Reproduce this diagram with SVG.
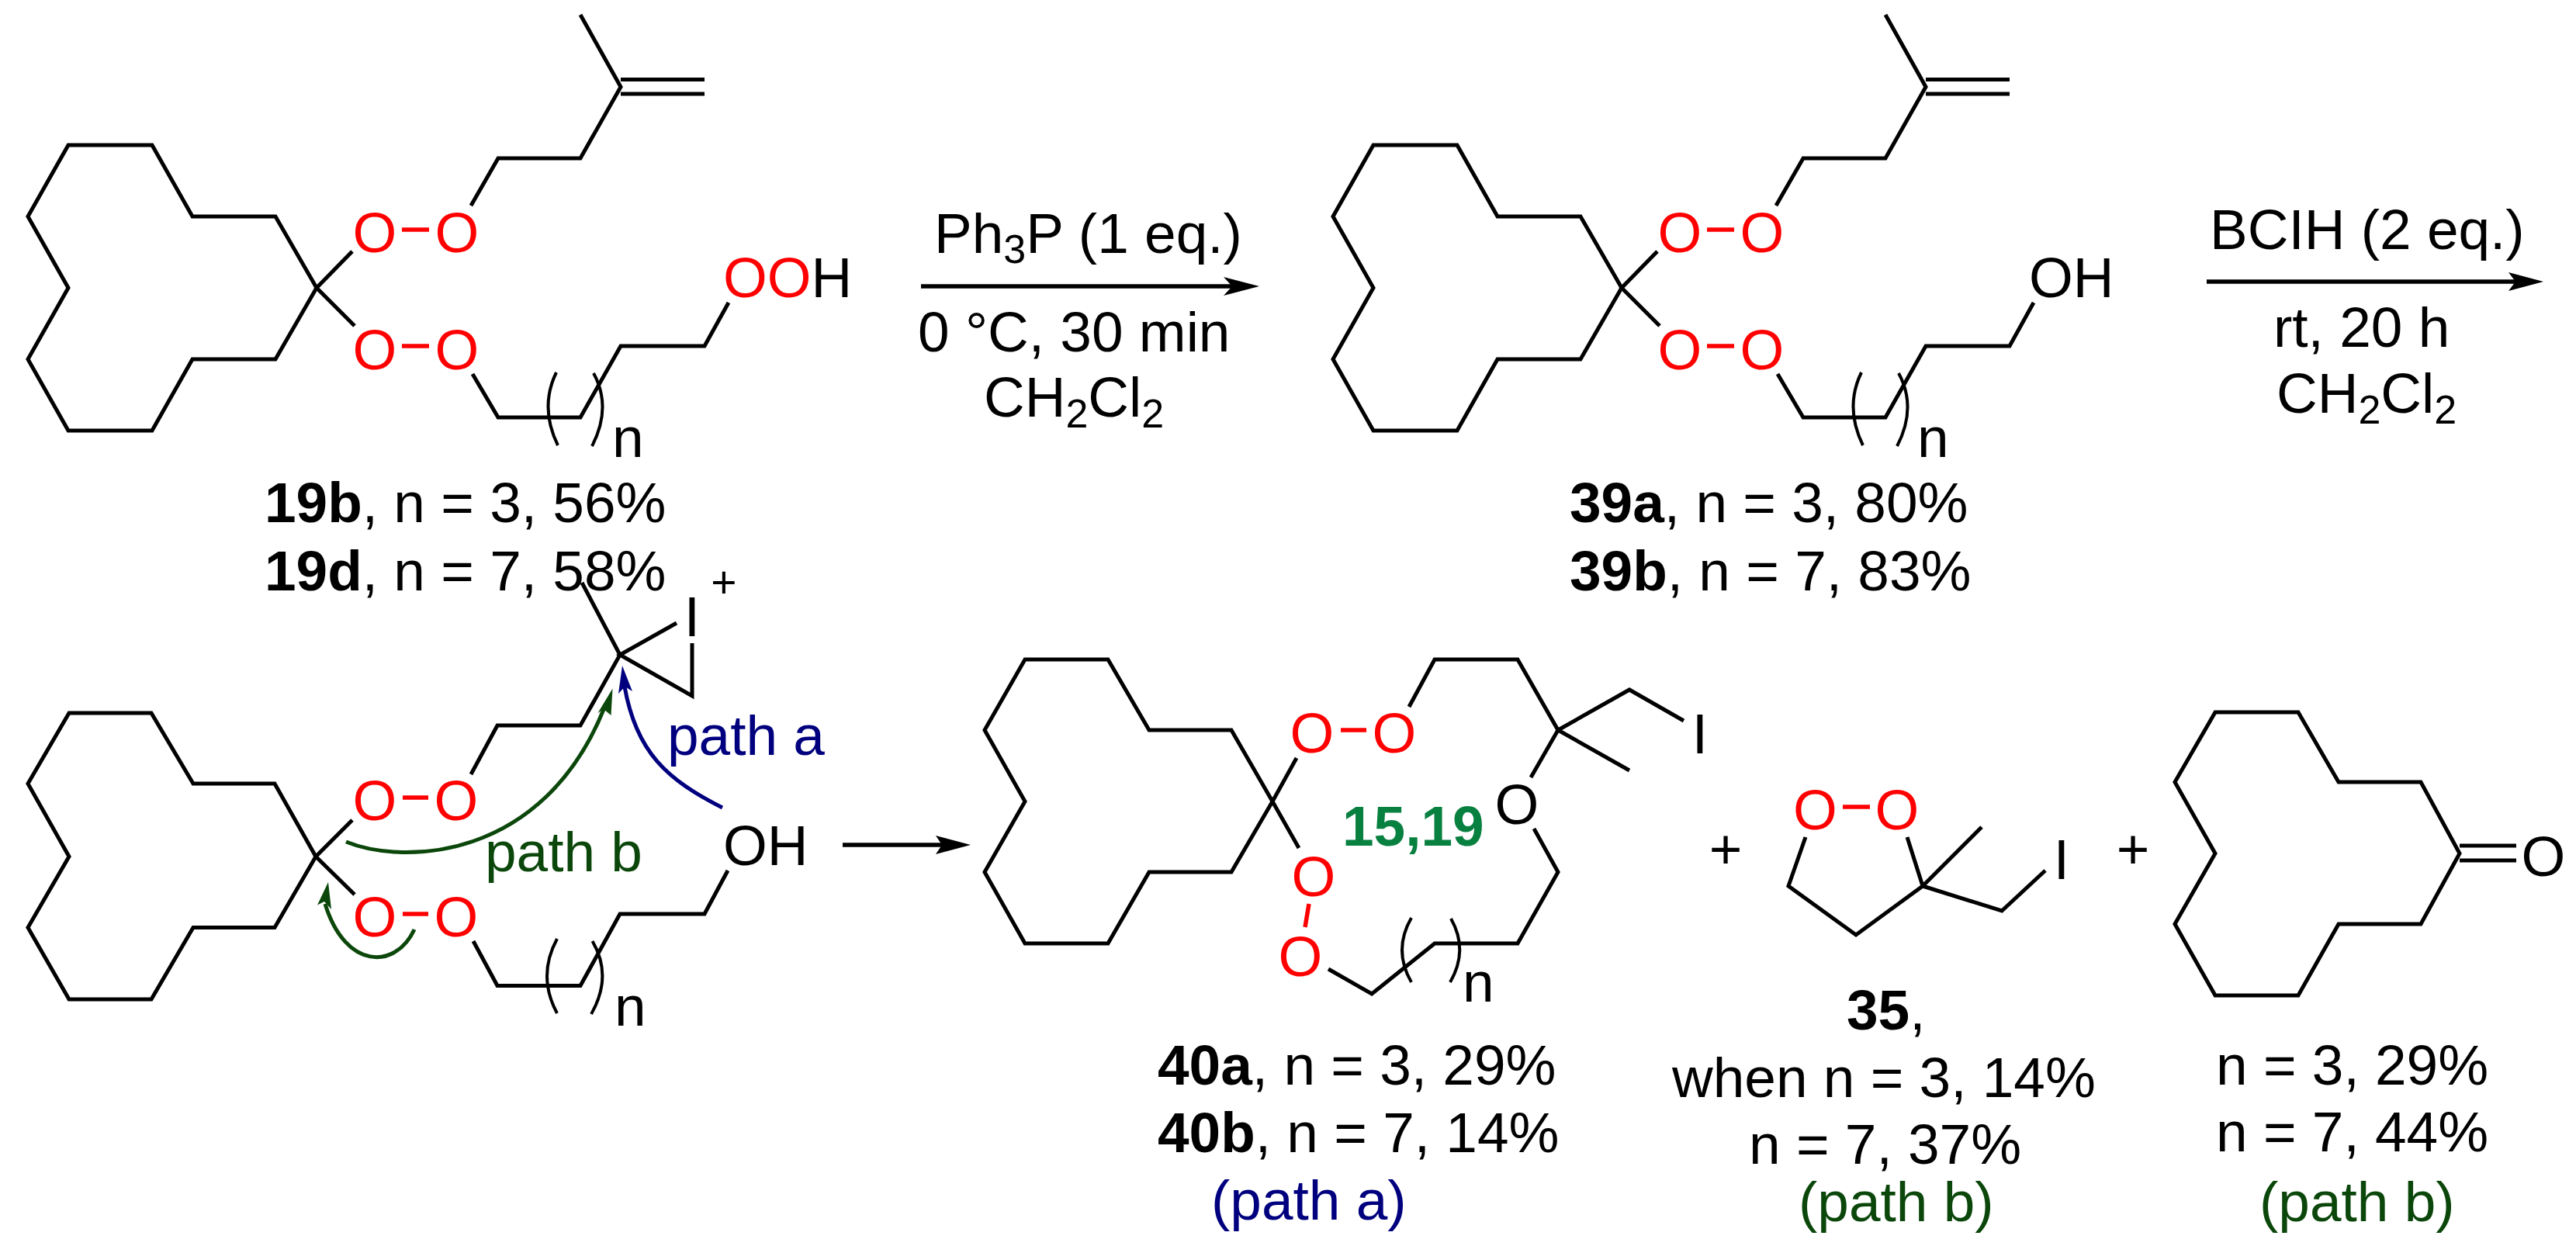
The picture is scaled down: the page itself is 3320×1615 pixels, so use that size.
<svg xmlns="http://www.w3.org/2000/svg" width="3320" height="1615" viewBox="0 0 3320 1615">
<style>
text{font-family:"Liberation Sans",Arial,sans-serif;font-size:73px;fill:#000}
.b{font-weight:bold}
.r{fill:#f00}
.m{text-anchor:middle}
.s{font-size:52px}
.navy{fill:#00007f}
.dg{fill:#0b470b}
.g{fill:#088040;font-weight:bold}
.bond{fill:none;stroke:#000;stroke-width:5;stroke-linejoin:miter}
.oo{fill:none;stroke:#f00;stroke-width:5.5}
.br{fill:none;stroke:#000;stroke-width:4}
.arr{fill:none;stroke:#000;stroke-width:5.5}
.cn{fill:none;stroke-width:5}
</style>
<defs>
<path id="ring" class="bond" d="M88 187H196L248 279H355L408 371L355 463H248L196 555H88L36 463L88 371L36 279Z"/>
</defs>
<g id="mol-19">
<use href="#ring"/>
<path class="bond" d="M454 324L408 371L457 420M607 265L642 204H748L800 112L748 19M800 102.500H908M800 121H908M609 482L642 538H748L800 446H908L939 390"/>
<path class="br" d="M717 480Q695 525 719 574M765 481Q789 525 763 575"/>
<path class="oo" d="M518 296H553M518 446H553"/>
<text class="r m" x="483" y="325">O</text><text class="r m" x="589" y="325">O</text>
<text class="r m" x="483" y="476">O</text><text class="r m" x="589" y="476">O</text>
<text x="932" y="383"><tspan class="r">OO</tspan>H</text>
<text x="789" y="589">n</text>
<text x="341" y="673"><tspan class="b">19b</tspan>, n = 3, 56%</text>
<text x="341" y="761"><tspan class="b">19d</tspan>, n = 7, 58%</text>
</g>
<g id="reagents-1">
<text x="1204" y="326">Ph<tspan class="s" dy="13">3</tspan><tspan dy="-13">P (1 eq.)</tspan></text>
<text x="1183" y="453">0 °C, 30 min</text>
<text x="1268" y="537">CH<tspan class="s" dy="14">2</tspan><tspan dy="-14">Cl</tspan><tspan class="s" dy="14">2</tspan></text>
</g>
<g id="mol-39">
<use href="#ring" x="1682"/>
<path class="bond" d="M2136 324L2090 371L2139 420M2289 265L2324 204H2430L2482 112L2430 19M2482 102.500H2590M2482 121H2590M2291 482L2324 538H2430L2482 446H2590L2621 390"/>
<path class="br" d="M2399 480Q2377 525 2401 574M2447 481Q2471 525 2445 575"/>
<path class="oo" d="M2200 296H2235M2200 446H2235"/>
<text class="r m" x="2165" y="325">O</text><text class="r m" x="2271" y="325">O</text>
<text class="r m" x="2165" y="476">O</text><text class="r m" x="2271" y="476">O</text>
<text x="2615" y="383">OH</text>
<text x="2471" y="589">n</text>
<text x="2023" y="673"><tspan class="b">39a</tspan>, n = 3, 80%</text>
<text x="2023" y="761"><tspan class="b">39b</tspan>, n = 7, 83%</text>
</g>
<g id="reagents-2">
<text x="2848" y="321">BCIH (2 eq.)</text>
<text x="2930" y="447">rt, 20 h</text>
<text x="2934" y="532">CH<tspan class="s" dy="14">2</tspan><tspan dy="-14">Cl</tspan><tspan class="s" dy="14">2</tspan></text>
</g>
<g id="intermediate">
<path class="bond" d="M89 919H195L249 1010H354L407 1104L354 1195.500H249L195 1288H89L36 1195.500L89 1104L36 1010Z"/>
<path class="bond" d="M454 1057L407 1104L457 1153M607 998L641 935H748L799 844L750 751M872 803L799 844L892 897V829M610 1213L641 1270.500H748L799 1178H908L938 1122"/>
<path class="br" d="M718 1210Q692 1258 718 1306M763.500 1213Q790 1258 762 1307"/>
<path class="oo" d="M519 1028H552M519 1178H552"/>
<text class="r m" x="483" y="1057">O</text><text class="r m" x="588" y="1057">O</text>
<text class="r m" x="483" y="1207">O</text><text class="r m" x="588" y="1207">O</text>
<text class="m" x="892" y="820">I</text>
<text class="m" x="933" y="770" style="font-size:57px">+</text>
<text x="932" y="1115">OH</text>
<text x="792" y="1322">n</text>
<text class="navy" x="860" y="973">path a</text>
<text class="dg" x="625" y="1123">path b</text>
</g>
<g id="connectors">
<path class="arr" d="M1187 369H1590"/><path d="M1623 369L1577 357L1588 369L1577 381Z"/>
<path class="arr" d="M2844 363H3245"/><path d="M3278 363L3233 351L3242 363L3233 375Z"/>
<path class="arr" d="M1086 1089H1218"/><path d="M1251 1089L1206 1077L1214 1089L1206 1101Z"/>
<path class="cn" stroke="#00007f" d="M931 1041C860 1005 820 970 805 885"/><path fill="#00007f" d="M802 858L797 894L805.500 885L815 891Z"/>
<path class="cn" stroke="#0b470b" d="M446 1085C520 1115 700 1110 779 912"/><path fill="#0b470b" d="M789.500 887.500L770.500 919L778 914L787.500 922Z"/>
<path class="cn" stroke="#0b470b" d="M534 1198C510 1250 445 1250 419 1165"/><path fill="#0b470b" d="M423 1137L409 1166.500L418 1162L427 1172Z"/>
</g>
<g id="mol-40">
<path class="bond" d="M1321 850H1428L1481 941H1587L1640 1033L1587 1124H1481L1428 1216H1321L1269 1124L1321 1033L1269 941Z"/>
<path class="bond" d="M1671 977L1640 1033L1674 1093M1816 911L1849 850H1956L2008 941L2100 889L2170 929M2008 941L2100 993M2008 941L1973 1002M1977 1068L2008 1124L1956 1216H1849L1768 1281L1712 1249"/>
<path class="br" d="M1819 1183Q1795 1224.500 1819 1266M1870 1184Q1893 1224.500 1869 1266"/>
<path class="oo" d="M1728 941H1761M1687 1165L1682 1195"/>
<text class="r m" x="1691" y="970">O</text><text class="r m" x="1797" y="970">O</text>
<text class="r m" x="1693" y="1155">O</text><text class="r m" x="1676" y="1258">O</text>
<text class="m" x="1955" y="1062">O</text>
<text class="m" x="2191" y="971">I</text>
<text x="1885" y="1291">n</text>
<text class="g" x="1730" y="1090">15,19</text>
<text x="1492" y="1398"><tspan class="b">40a</tspan>, n = 3, 29%</text>
<text x="1492" y="1485"><tspan class="b">40b</tspan>, n = 7, 14%</text>
<text class="navy" x="1561" y="1572">(path a)</text>
</g>
<g id="plus-1"><text class="m" x="2224" y="1119">+</text></g>
<g id="mol-35">
<path class="bond" d="M2327 1079L2305 1142L2392 1205L2478 1142L2458 1079M2478 1142L2554 1066M2478 1142L2580 1174L2636 1122"/>
<path class="oo" d="M2375 1040H2410"/>
<text class="r m" x="2339.500" y="1069">O</text><text class="r m" x="2445" y="1069">O</text>
<text class="m" x="2657" y="1133">I</text>
<text x="2380" y="1327"><tspan class="b">35</tspan>,</text>
<text x="2155" y="1414">when n = 3, 14%</text>
<text x="2254" y="1500">n = 7, 37%</text>
<text class="dg" x="2318" y="1574">(path b)</text>
</g>
<g id="plus-2"><text class="m" x="2749" y="1119">+</text></g>
<g id="ketone">
<path class="bond" d="M2855 918H2962L3014 1008H3120L3170 1100L3120 1191H3014L2962 1283H2855L2803 1191L2855 1100L2803 1008ZM3170 1090H3243M3170 1109H3243"/>
<text class="m" x="3278" y="1129">O</text>
<text x="2856" y="1398">n = 3, 29%</text>
<text x="2856" y="1484">n = 7, 44%</text>
<text class="dg" x="2912" y="1574">(path b)</text>
</g>
</svg>
